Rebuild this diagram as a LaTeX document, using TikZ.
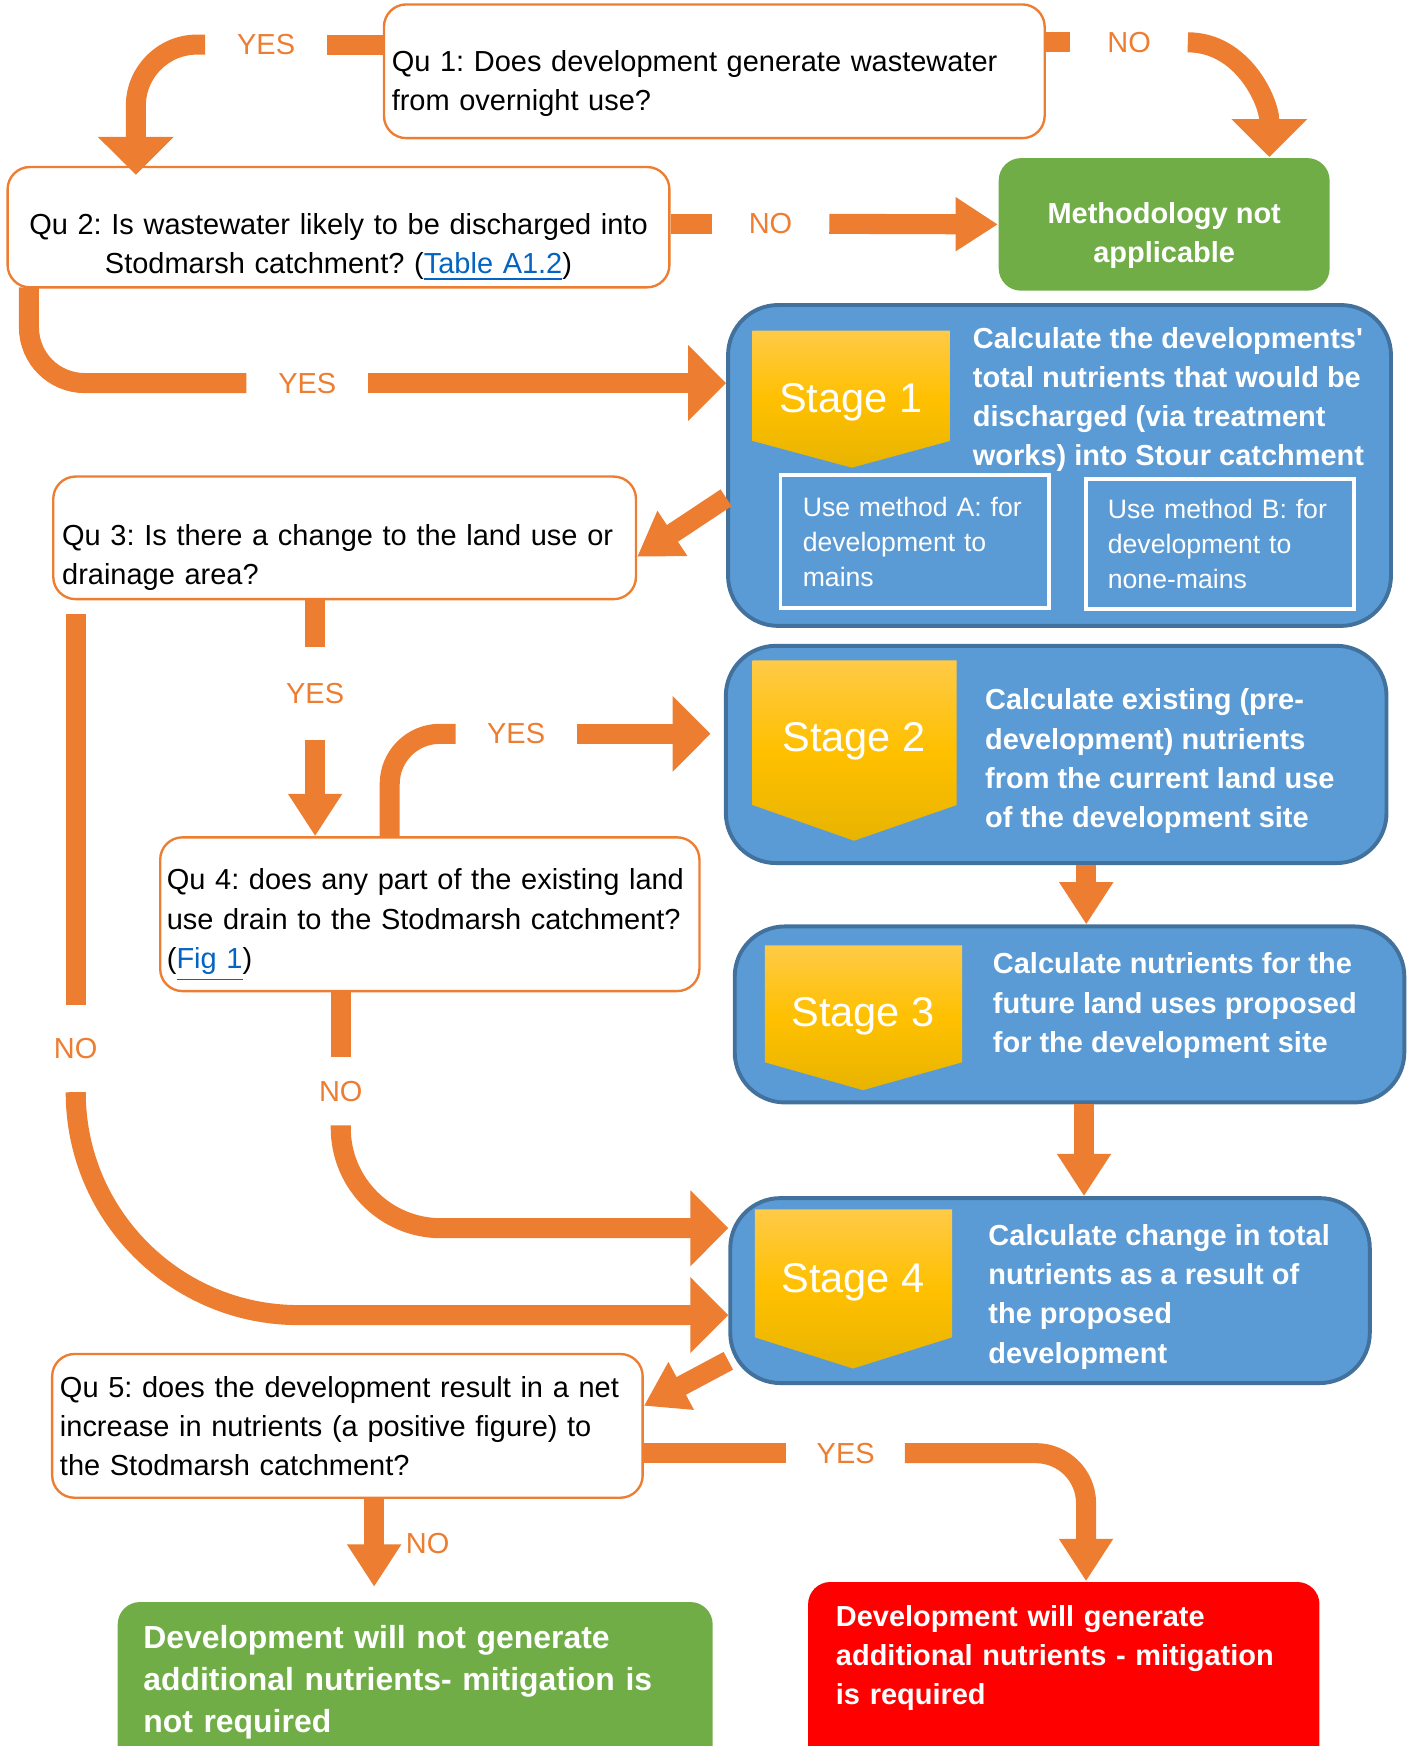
\documentclass[tikz,border=0pt]{standalone}
\usepackage{fontspec}
\setmainfont{Liberation Sans}
\usepackage{xcolor}
\usepackage{tikz}
\usetikzlibrary{arrows.meta, positioning}
\frenchspacing

\definecolor{qorange}{HTML}{ED7D31}
\definecolor{stageblue}{HTML}{5B9BD5}
\definecolor{stageline}{HTML}{41719C}
\definecolor{methgreen}{HTML}{70AD47}
\definecolor{stopred}{HTML}{FF0000}
\definecolor{linkblue}{HTML}{0563C1}
\definecolor{tagtop}{HTML}{FFCA47}
\definecolor{tagmid}{HTML}{FFC000}
\definecolor{tagbottom}{HTML}{E8B400}

\newcommand{\qtext}{\fontsize{7.4}{10}\selectfont}
\newcommand{\boldtext}{\fontsize{7.4}{10}\selectfont\bfseries}
\newcommand{\methtext}{\fontsize{6.8}{9}\selectfont}
\newcommand{\stagetext}{\fontsize{10.6}{12}\selectfont}
\newcommand{\bigboldtext}{\fontsize{8.15}{10.7}\selectfont\bfseries}
\newcommand{\link}[1]{\textcolor{linkblue}{\underline{#1}}}
\newcommand{\qpad}[1]{\rule{0pt}{#1}}

\tikzset{
    question/.style={draw=qorange, line width=0.6pt, fill=white, rounded corners=0.2cm, font=\qtext, align=left, inner ysep=0pt},
    stagebox/.style={draw=stageline, fill=stageblue, line width=1pt, rounded corners=0.45cm},
    tag/.style={top color=tagtop, bottom color=tagbottom, middle color=tagmid},
    stagename/.style={text=white, font=\stagetext},
    stagedesc/.style={anchor=north west, inner sep=0pt, text=white, font=\boldtext, align=left},
    method/.style={draw=white, line width=1pt, text=white, font=\methtext, align=left, text width=2.01cm, inner xsep=0.2cm},
    result/.style={anchor=north west, rounded corners=0.2cm, text=white, align=left},
    answer/.style={text=qorange, font=\qtext, inner sep=0pt},
    flow/.style={draw=qorange, line width=0.18cm},
    bigtip/.style={-{Triangle[width=0.66cm,length=0.34cm]}},
    smalltip/.style={-{Triangle[width=0.46cm,length=0.38cm]}},
}

\begin{document}
\begin{tikzpicture}[x=0.01cm, y=0.01cm]
        % Frame
        \clip (0,0) rectangle (1269,-1568);
        % Questions
        \node[question, text width=5.79cm, inner xsep=0.07cm, minimum height=1.2cm] (qone) at (641.5,-64) {\qpad{11.6pt}Qu 1: Does development generate wastewater\\from overnight use?};
        \node[question, text width=5.80cm, inner xsep=0.07cm, minimum height=1.08cm, align=center] (qtwo) at (304,-204) {\qpad{15.6pt}Qu 2: Is wastewater likely to be discharged into\\Stodmarsh catchment? (\link{Table A1.2})};
        \node[question, text width=5.07cm, inner xsep=0.08cm, minimum height=1.1cm] (qthree) at (309.5,-483) {\qpad{15.6pt}Qu 3: Is there a change to the land use or\\drainage area?};
        \node[question, text width=4.72cm, inner xsep=0.06cm, minimum height=1.38cm] (qfour) at (386,-821) {\qpad{11.1pt}Qu 4: does any part of the existing land\\use drain to the Stodmarsh catchment?\\(\link{Fig 1})};
        \node[question, text width=5.16cm, inner xsep=0.07cm, minimum height=1.29cm] (qfive) at (312,-1280.5) {Qu 5: does the development result in a net\\increase in nutrients (a positive figure) to\\the Stodmarsh catchment?};
        % Not applicable
        \node[fill=methgreen, rounded corners=0.2cm, minimum width=2.97cm, minimum height=1.19cm, text=white, font=\boldtext, align=center] (meth) at (1045.5,-201.5) {\qpad{11.1pt}Methodology not\\applicable};
        % Stages
        \node[stagebox, minimum width=5.95cm, minimum height=2.88cm] (sone) at (951.5,-418) {};
        \node[stagebox, minimum width=5.93cm, minimum height=1.95cm] (stwo) at (948.5,-677.5) {};
        \node[stagebox, minimum width=6.01cm, minimum height=1.58cm] (sthree) at (960.5,-911) {};
        \node[stagebox, minimum width=5.74cm, minimum height=1.66cm] (sfour) at (943,-1159) {};
        \shade[tag] (676,-297) -- (853,-297) -- (853,-396) -- (765,-420) -- (676,-396) -- cycle;
        \shade[tag] (676,-593) -- (859,-593) -- (859,-723) -- (767,-755) -- (676,-723) -- cycle;
        \shade[tag] (687,-849) -- (864,-849) -- (864,-954) -- (775,-979) -- (687,-954) -- cycle;
        \shade[tag] (678,-1086) -- (855,-1086) -- (855,-1201) -- (766,-1229) -- (678,-1201) -- cycle;
        \node[stagename] (sonename) at (764,-361) {Stage 1};
        \node[stagename] (stwoname) at (767,-666) {Stage 2};
        \node[stagename] (sthreename) at (775,-913) {Stage 3};
        \node[stagename] (sfourname) at (766,-1152) {Stage 4};
        \node[stagedesc] (sonedesc) at (873,-293) {Calculate the developments\textquotesingle\\total nutrients that would be\\discharged (via treatment\\works) into Stour catchment};
        \node[stagedesc] (stwodesc) at (884,-618) {Calculate existing (pre-\\development) nutrients\\from the current land use\\of the development site};
        \node[stagedesc] (sthreedesc) at (891,-855) {Calculate nutrients for the\\future land uses proposed\\for the development site};
        \node[stagedesc] (sfourdesc) at (887,-1099) {Calculate change in total\\nutrients as a result of\\the proposed\\development};
        \node[method, minimum width=2.41cm, minimum height=1.19cm] (metha) at (821.5,-486.5) {Use method A: for\\development to\\mains};
        \node[method, minimum width=2.41cm, minimum height=1.17cm] (methb) at (1095.5,-488.5) {Use method B: for\\development to\\none-mains};
        % Results
        \node[result, fill=methgreen, text width=4.88cm, inner xsep=0.23cm, inner ysep=0.21cm, font=\bigboldtext] (notreq) at (105,-1438) {Development will not generate\\additional nutrients- mitigation is\\not required\rule[-8pt]{0pt}{8pt}};
        \node[result, fill=stopred, text width=4.09cm, inner xsep=0.25cm, inner ysep=0.21cm, font=\boldtext] (req) at (725,-1420) {Development will generate\\additional nutrients - mitigation\\is required\rule[-12pt]{0pt}{12pt}};
        % Answers
        \node[answer, minimum width=1.08cm] (yesa) at (239,-40) {YES};
        \node[answer, minimum width=1.04cm] (noa) at (1014,-38) {NO};
        \node[answer, minimum width=1.04cm] (nob) at (692,-201) {NO};
        \node[answer, minimum width=1.08cm] (yesb) at (276,-344) {YES};
        \node[answer, minimum height=0.82cm] (yesc) at (283,-623) {YES};
        \node[answer, minimum width=1.07cm] (yesd) at (463.5,-659) {YES};
        \node[answer, minimum height=0.78cm] (noc) at (68,-942) {NO};
        \node[answer, minimum height=0.6cm] (nod) at (306,-980) {NO};
        \node[answer, minimum width=1.05cm] (yese) at (759.5,-1305) {YES};
        \node[answer] (nof) at (384,-1386) {NO};
        % Qu 1
        \coordinate (qtwoin) at (122,-157);
        \coordinate (methin) at (1140,-141);
        \draw[flow] (qone.west |- yesa.east) -- (yesa.east);
        \draw[flow, bigtip, rounded corners=0.55cm] (yesa.west) -| (qtwoin);
        \draw[flow] (qone.east |- noa.west) -- (noa.west);
        \draw[flow, bigtip] (noa.east) to[out=0, in=90] (methin);
        % Qu 2
        \coordinate (qtwoout) at (26,-258);
        \draw[flow] (qtwo.east |- nob.west) -- (nob.west);
        \draw[flow, smalltip] (nob.east) -- (meth.west);
        \draw[flow, rounded corners=0.5cm] (qtwoout) |- (yesb.west);
        \draw[flow, bigtip] (yesb.east) -- (sone.west |- yesb.east);
        % Qu 3
        \draw[flow, smalltip] ([yshift=-0.29cm]sone.west) -- ([yshift=-0.17cm]qthree.east);
        \draw[flow] (qthree.south -| yesc.north) -- (yesc.north);
        \draw[flow, smalltip] (yesc.south) -- (qfour.north -| yesc.south);
        \draw[flow, shorten <=0.12cm] (qthree.south -| noc.north) -- (noc.north);
        \draw[flow, bigtip, rounded corners=2cm] (noc.south) |- ([yshift=-0.22cm]sfour.west);
        % Qu 4
        \draw[flow, rounded corners=0.45cm] ([xshift=-0.36cm]qfour.north) |- (yesd.west);
        \draw[flow, bigtip, shorten >=0.12cm] (yesd.east) -- (stwo.west |- yesd.east);
        \draw[flow] (qfour.south -| nod.north) -- (nod.north);
        \draw[flow, bigtip, rounded corners=0.9cm] (nod.south) |- ([yshift=0.56cm]sfour.west);
        % Stages
        \draw[flow, smalltip] ([xshift=0.27cm]stwo.south) -- ([xshift=0.27cm]stwo.south |- sthree.north);
        \draw[flow, smalltip] ([xshift=0.13cm]sthree.south) -- ([xshift=0.13cm]sthree.south |- sfour.north);
        \draw[flow, smalltip] ([yshift=-0.63cm]sfour.west) -- ([yshift=0.18cm]qfive.east);
        % Qu 5
        \draw[flow] (qfive.east |- yese.west) -- (yese.west);
        \draw[flow, smalltip, rounded corners=0.45cm] (yese.east) -| ([xshift=0.2cm]req.north);
        \draw[flow, smalltip, shorten >=0.13cm] ([xshift=0.24cm]qfive.south) -- ([xshift=0.24cm]qfive.south |- notreq.north);
\end{tikzpicture}
\end{document}
